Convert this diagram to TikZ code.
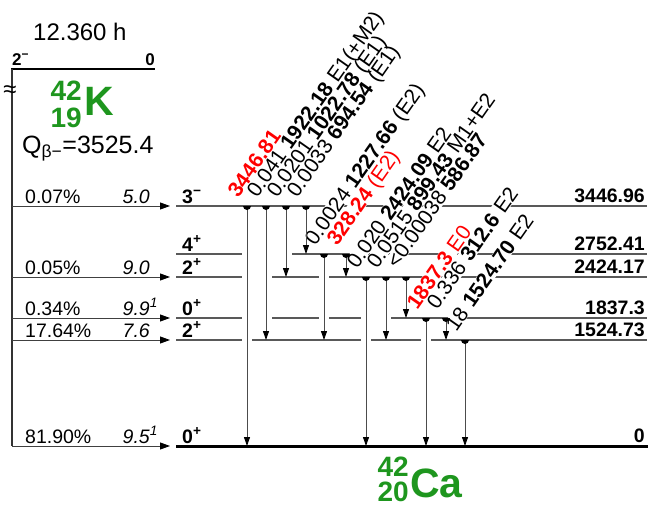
\documentclass[tikz,border=0pt]{standalone}
\usepackage{fontspec}
\setmainfont{Liberation Sans}
\usetikzlibrary{arrows.meta, positioning, calc}
\definecolor{nucgreen}{RGB}{30,150,30}
\tikzstyle{level} = [draw=black!65, line width=1.6pt]
\tikzstyle{gslevel} = [draw=black, line width=3pt]
\tikzstyle{gamma} = [draw=black!70, line width=0.9pt,
-{Triangle[length=9pt,width=6pt,black]}]
\tikzstyle{betaarrow} = [draw=black!75, line width=0.9pt,
-{Triangle[length=10pt,width=7pt,black]}]
\tikzstyle{glab} = [rotate=55, anchor=base west, inner sep=0.3pt, fill=white,
text height=15pt, text depth=0pt,
font=\fontsize{21}{21}\selectfont]
\tikzstyle{lvlab} = [inner sep=0pt, font=\fontsize{19.5}{20}\selectfont\bfseries]
\tikzstyle{betalab} = [inner sep=0pt, font=\fontsize{19.5}{20}\selectfont]
\tikzstyle{nuc} = [inner sep=0pt, text=nucgreen, font=\fontsize{28}{28}\selectfont\bfseries]
\tikzstyle{nucbig} = [inner sep=0pt, text=nucgreen, font=\fontsize{41}{41}\selectfont\bfseries]

\begin{document}
\begin{tikzpicture}[x=1pt, y=-1pt]
\useasboundingbox (0,0) rectangle (648,506);

        % Niveles
        \coordinate (par) at (12,69);
        \coordinate (L3447) at (176,206);
        \coordinate (L2752) at (176,254);
        \coordinate (L2424) at (176,277);
        \coordinate (L1837) at (176,318);
        \coordinate (L1525) at (176,340);
        \coordinate (L0) at (176,446);

        \draw[line width=2.6pt] ([xshift=-1pt]par) -- ++(144,0);
        \draw[draw=black!80, line width=1.3pt] (par) -- (par |- L0);

        \foreach \lv/\a/\b in {L3447/176/647, L2752/176/242, L2752/292/647,
            L2424/176/242, L2424/272/319, L2424/329/647,
            L1837/176/242, L1837/272/319, L1837/329/361, L1837/391/647,
            L1525/176/242, L1525/252/361, L1525/371/421, L1525/431/647}
            \draw[level] (\a,0 |- \lv) -- (\b,0 |- \lv);
        \draw[gslevel] (L0) -- (648,0 |- L0);

        % Padre
        \node[inner sep=0pt, anchor=base west, font=\fontsize{24}{24}\selectfont] (thalf) at (33,40) {12.360 h};
        \node[inner sep=0pt, anchor=base west, font=\fontsize{17}{17}\selectfont\bfseries] (pspin) at (12,65) {2\textsuperscript{−}};
        \node[inner sep=0pt, anchor=base east, font=\fontsize{17}{17}\selectfont\bfseries] (pen) at (155,65) {0};
        \node[inner sep=0pt, font=\fontsize{24}{24}\selectfont] (brk) at (10,92) {≈};
        \node[nuc, anchor=base east] (kA) at (82,100) {42};
        \node[nuc, anchor=base east] (kZ) at (82,127) {19};
        \node[nucbig, anchor=base west] (kS) at (84,115) {K};
        \node[inner sep=0pt, anchor=base west, font=\fontsize{25}{25}\selectfont] (qval) at (22,153) {Q\textsubscript{β−}=3525.4};

        % Ramas beta
        \foreach \lv/\pct/\ft in {L3447/0.07/5.0, L2424/0.05/9.0, L1837/0.34/9.9\rlap{\textsuperscript{1}},
            L1525/17.64/7.6, L0/81.90/9.5\rlap{\textsuperscript{1}}}{
            \draw[betaarrow] (par |- \lv) -- ([xshift=-6pt]\lv);
            \node[betalab, anchor=base west] at ($(25,0 |- \lv)+(0,-3)$) {\pct\%};
            \node[betalab, anchor=base east, font=\fontsize{19.5}{20}\selectfont\itshape] at ($(150,0 |- \lv)+(0,-3)$) {\ft};
        }

        % Etiquetas gamma
        \foreach \x/\lv/\txt in {465/L1525/{18 \textbf{1524.70} E2},
            446/L1837/{0.336 \textbf{312.6} E2},
            426/L1837/{\color{red}\textbf{1837.3} E0},
            406/L2424/{<0.00038 \textbf{586.87}},
            386/L2424/{0.0515 \textbf{899.43} M1+E2},
            366/L2424/{0.020 \textbf{2424.09} E2},
            346/L2752/{\color{red}\textbf{328.24} (E2)},
            324/L2752/{0.0024 \textbf{1227.66} (E2)},
            306/L3447/{0.0033 \textbf{694.54} (E1)},
            286/L3447/{0.0201 \textbf{1022.78} (E1)},
            266/L3447/{0.041 \textbf{1922.18} E1(+M2)},
            247/L3447/{\color{red}\textbf{3446.81}}}
            \node[glab] (lab\x) at ($(\x,0 |- \lv)+(-9,-7)$) {\txt};

        % Transiciones
        \foreach \x/\from/\to in {247/L3447/L0, 266/L3447/L1525, 286/L3447/L2424,
            306/L3447/L2752, 324/L2752/L1525, 346/L2752/L2424, 366/L2424/L0,
            386/L2424/L1525, 406/L2424/L1837, 426/L1837/L0, 446/L1837/L1525,
            465/L1525/L0}{
            \draw[gamma] (\x,0 |- \from) -- (\x,0 |- \to);
            \fill ($(\x,0 |- \from)+(-4,0)$) arc[start angle=180, end angle=360, radius=4pt] -- cycle;
        }

        % Espines y energias
        \foreach \lv/\sp/\en in {L3447/3\textsuperscript{−}/3446.96, L2752/4\textsuperscript{+}/2752.41,
            L2424/2\textsuperscript{+}/2424.17, L1837/0\textsuperscript{+}/1837.3,
            L1525/2\textsuperscript{+}/1524.73, L0/0\textsuperscript{+}/0}{
            \node[lvlab, anchor=base west] at ($(\lv)+(6,-3)$) {\sp};
            \node[lvlab, anchor=base east] at ($(645,0 |- \lv)+(0,-4)$) {\en};
        }

        % Hija
        \node[nuc, anchor=base east] (cA) at (409,476) {42};
        \node[nuc, anchor=base east] (cZ) at (409,501) {20};
        \node[nucbig, anchor=base west] (cS) at (410,497) {Ca};

\end{tikzpicture}
\end{document}
